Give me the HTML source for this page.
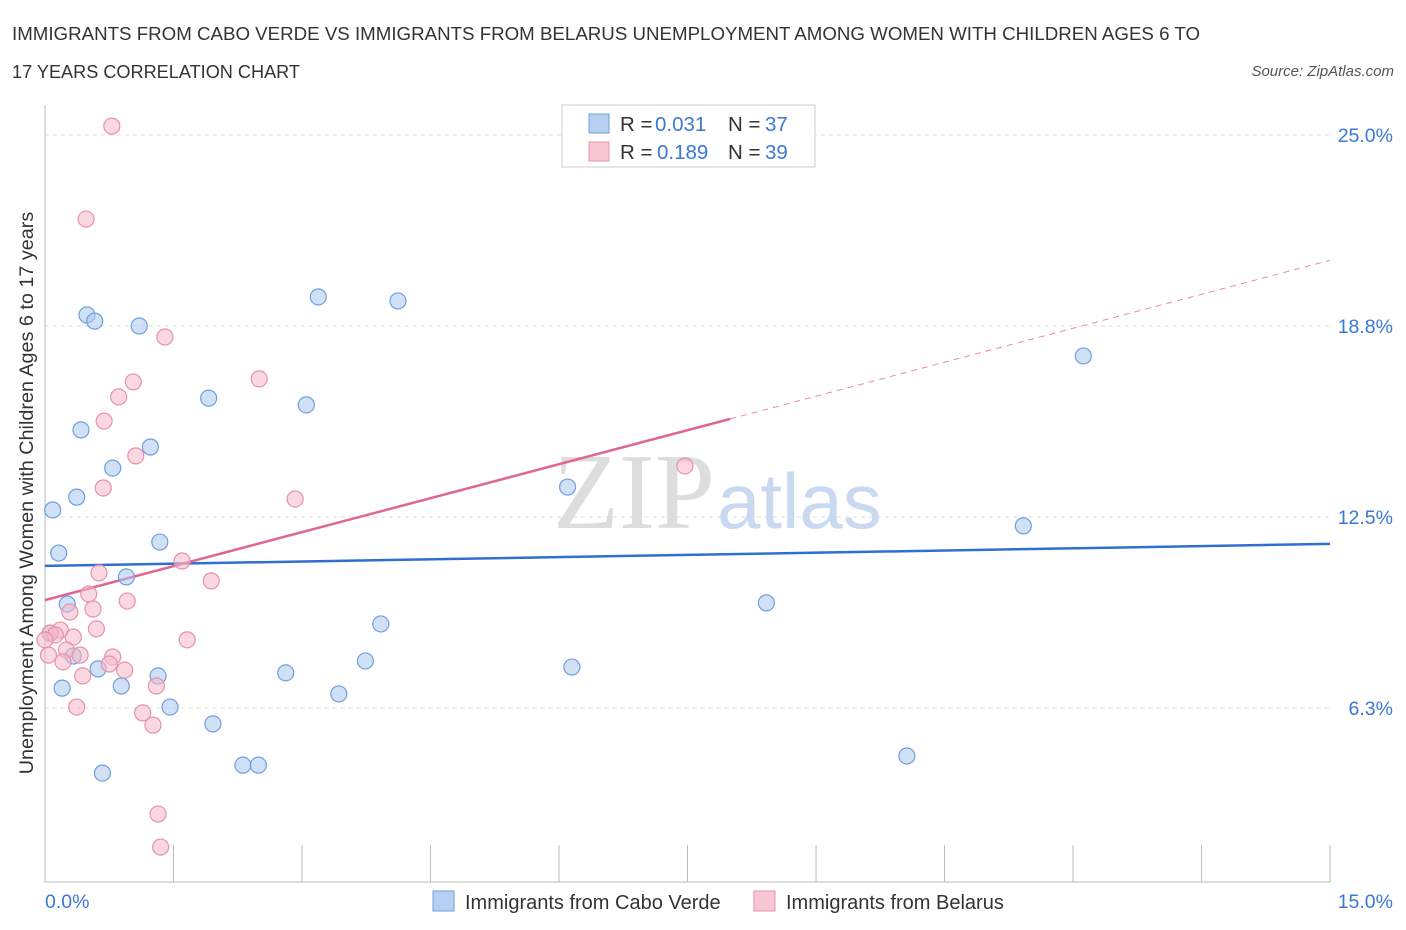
<!DOCTYPE html>
<html><head><meta charset="utf-8">
<style>
body{margin:0;background:#fff;font-family:"Liberation Sans",sans-serif;}
#wrap{position:relative;width:1406px;height:930px;overflow:hidden;}
</style></head>
<body>
<div id="wrap">
<svg id="chart" width="1406" height="930">
<text x="12" y="40" font-size="18" fill="#333" textLength="1188" lengthAdjust="spacingAndGlyphs">IMMIGRANTS FROM CABO VERDE VS IMMIGRANTS FROM BELARUS UNEMPLOYMENT AMONG WOMEN WITH CHILDREN AGES 6 TO</text>
<text x="12" y="78" font-size="18" fill="#333" textLength="288" lengthAdjust="spacingAndGlyphs">17 YEARS CORRELATION CHART</text>
<text x="1394" y="76" font-size="15" fill="#555" font-style="italic" text-anchor="end">Source: ZipAtlas.com</text>
<text x="33" y="493" font-size="19.8" fill="#333" text-anchor="middle" transform="rotate(-90 33 493)">Unemployment Among Women with Children Ages 6 to 17 years</text>
<g id="grid"></g>
<text x="553" y="528" font-size="108" fill="#ddd" font-family="Liberation Serif,serif">ZIP</text>
<text x="717" y="528" font-size="78" fill="#c8d9f0">atlas</text>
<g id="axes"></g>
<g id="lines"></g>
<g id="pts"></g>
<g>
<rect x="562" y="105" width="253" height="62" fill="#fff" stroke="#ccc"/>
<rect x="589" y="114" width="20" height="19" fill="#b7d0f2" stroke="#6f9fdc"/>
<rect x="589" y="142" width="20" height="19" fill="#f8c6d4" stroke="#e891ab"/>
<text y="131" font-size="20.5"><tspan x="620" fill="#333">R = </tspan><tspan x="655" fill="#3a78d4">0.031</tspan><tspan x="728" fill="#333">N = </tspan><tspan x="765" fill="#3a78d4">37</tspan></text>
<text y="159" font-size="20.5"><tspan x="620" fill="#333">R = </tspan><tspan x="657" fill="#3a78d4">0.189</tspan><tspan x="728" fill="#333">N = </tspan><tspan x="765" fill="#3a78d4">39</tspan></text>
</g>
<g>
<rect x="433" y="891" width="21" height="20" fill="#b7d0f2" stroke="#6f9fdc"/>
<text x="465" y="909" font-size="20" fill="#333">Immigrants from Cabo Verde</text>
<rect x="754" y="891" width="21" height="20" fill="#f8c6d4" stroke="#e891ab"/>
<text x="786" y="909" font-size="20" fill="#333">Immigrants from Belarus</text>
</g>
</svg>
</div>
<script>
const yTicks=[6.25,12.5,18.75,25];
const yTickLabels=["6.3%","12.5%","18.8%","25.0%"];
const xTickLabels=["0.0%","15.0%"];
const blueX=[0.49,0.58,1.10,3.19,4.12,12.12,1.91,3.05,0.42,1.23,0.79,0.37,6.10,0.09,11.42,0.16,1.34,0.95,0.26,8.42,3.92,0.06,0.33,0.62,1.32,2.81,3.74,6.15,0.20,0.89,3.43,1.46,1.96,2.31,2.49,10.06,0.67];
const blueY=[19.11,18.91,18.75,19.70,19.57,17.77,16.39,16.17,15.35,14.79,14.10,13.15,13.48,12.73,12.21,11.32,11.68,10.54,9.65,9.69,9.00,8.70,7.95,7.53,7.30,7.40,7.79,7.59,6.90,6.97,6.71,6.28,5.73,4.38,4.38,4.68,4.12];
const pinkX=[0.78,0.48,1.40,2.50,1.03,0.86,0.69,1.06,7.47,0.68,2.92,1.60,0.63,1.94,0.51,0.96,0.56,0.29,0.60,0.18,0.06,1.66,0.33,0.12,0.25,0.41,0.79,0.75,0.21,0.93,0.44,1.30,0.37,1.14,1.26,1.32,1.35,0,0.04];
const pinkY=[25.29,22.25,18.39,17.02,16.92,16.43,15.64,14.50,14.17,13.45,13.09,11.06,10.67,10.41,9.98,9.75,9.49,9.39,8.84,8.80,8.70,8.48,8.57,8.64,8.15,7.98,7.92,7.69,7.76,7.49,7.30,6.97,6.28,6.09,5.69,2.78,1.70,8.48,7.98];
const blueTrend=[10.90,11.62];
const pinkTrend=[9.78,20.9];
const pinkSolidEnd=8.0;

const X=v=>45+v*85.67;
const Y=v=>899-v*30.56;
const NS="http://www.w3.org/2000/svg";
function mk(tag,attrs,parent){const e=document.createElementNS(NS,tag);for(const k in attrs)e.setAttribute(k,attrs[k]);parent.appendChild(e);return e;}
const grid=document.getElementById('grid'),axes=document.getElementById('axes'),lines=document.getElementById('lines'),pts=document.getElementById('pts');
yTicks.forEach((t,i)=>{
  const l=mk('line',{x1:45,x2:1330,y1:Y(t),y2:Y(t),stroke:'#ddd','stroke-dasharray':'4,4'},grid);
  
  
  const tx=mk('text',{x:1393,y:Y(t)+7,'font-size':19.5,fill:'#3a78d4','text-anchor':'end'},axes);
  tx.textContent=yTickLabels[i];
  
  
});
mk('line',{x1:45,x2:45,y1:105,y2:882,stroke:'#bbb'},axes);
mk('line',{x1:45,x2:1330,y1:882,y2:882,stroke:'#bbb'},axes);
for(let i=0;i<=10;i++){
  const tk=mk('line',{x1:X(i*1.5),x2:X(i*1.5),y1:845,y2:882,stroke:'#bbb'},axes);
  
  
}
[[0,45,'start'],[15,1393,'end']].forEach((a,i)=>{
  const tx=mk('text',{x:a[1],y:908,'font-size':19.5,fill:'#3a78d4','text-anchor':a[2]},axes);
  tx.textContent=xTickLabels[i];
  
  
});
function drawPts(xs,ys,fill,stroke,name){
  xs.forEach((x,i)=>{
    const c=mk('circle',{cx:X(x),cy:Y(ys[i]),r:8,fill:fill,'fill-opacity':0.55,stroke:stroke,'stroke-width':1.2},pts);
    
    
  });
}
drawPts(blueX,blueY,'#a9c8ee','#6f9fdc','point-cabo-verde');
drawPts(pinkX,pinkY,'#f4b8c9','#e891ab','point-belarus');
const bl=mk('line',{x1:X(0),y1:Y(blueTrend[0]),x2:X(15),y2:Y(blueTrend[1]),stroke:'#2f6fd0','stroke-width':2.5},lines);


const pAt=v=>pinkTrend[0]+(pinkTrend[1]-pinkTrend[0])*v/15;
const pl=mk('line',{x1:X(0),y1:Y(pAt(0)),x2:X(pinkSolidEnd),y2:Y(pAt(pinkSolidEnd)),stroke:'#e06690','stroke-width':2.5},lines);


const pd=mk('line',{x1:X(pinkSolidEnd),y1:Y(pAt(pinkSolidEnd)),x2:X(15),y2:Y(pAt(15)),stroke:'#e88aa8','stroke-width':1,'stroke-dasharray':'6,5'},lines);


</script>
</body></html>
